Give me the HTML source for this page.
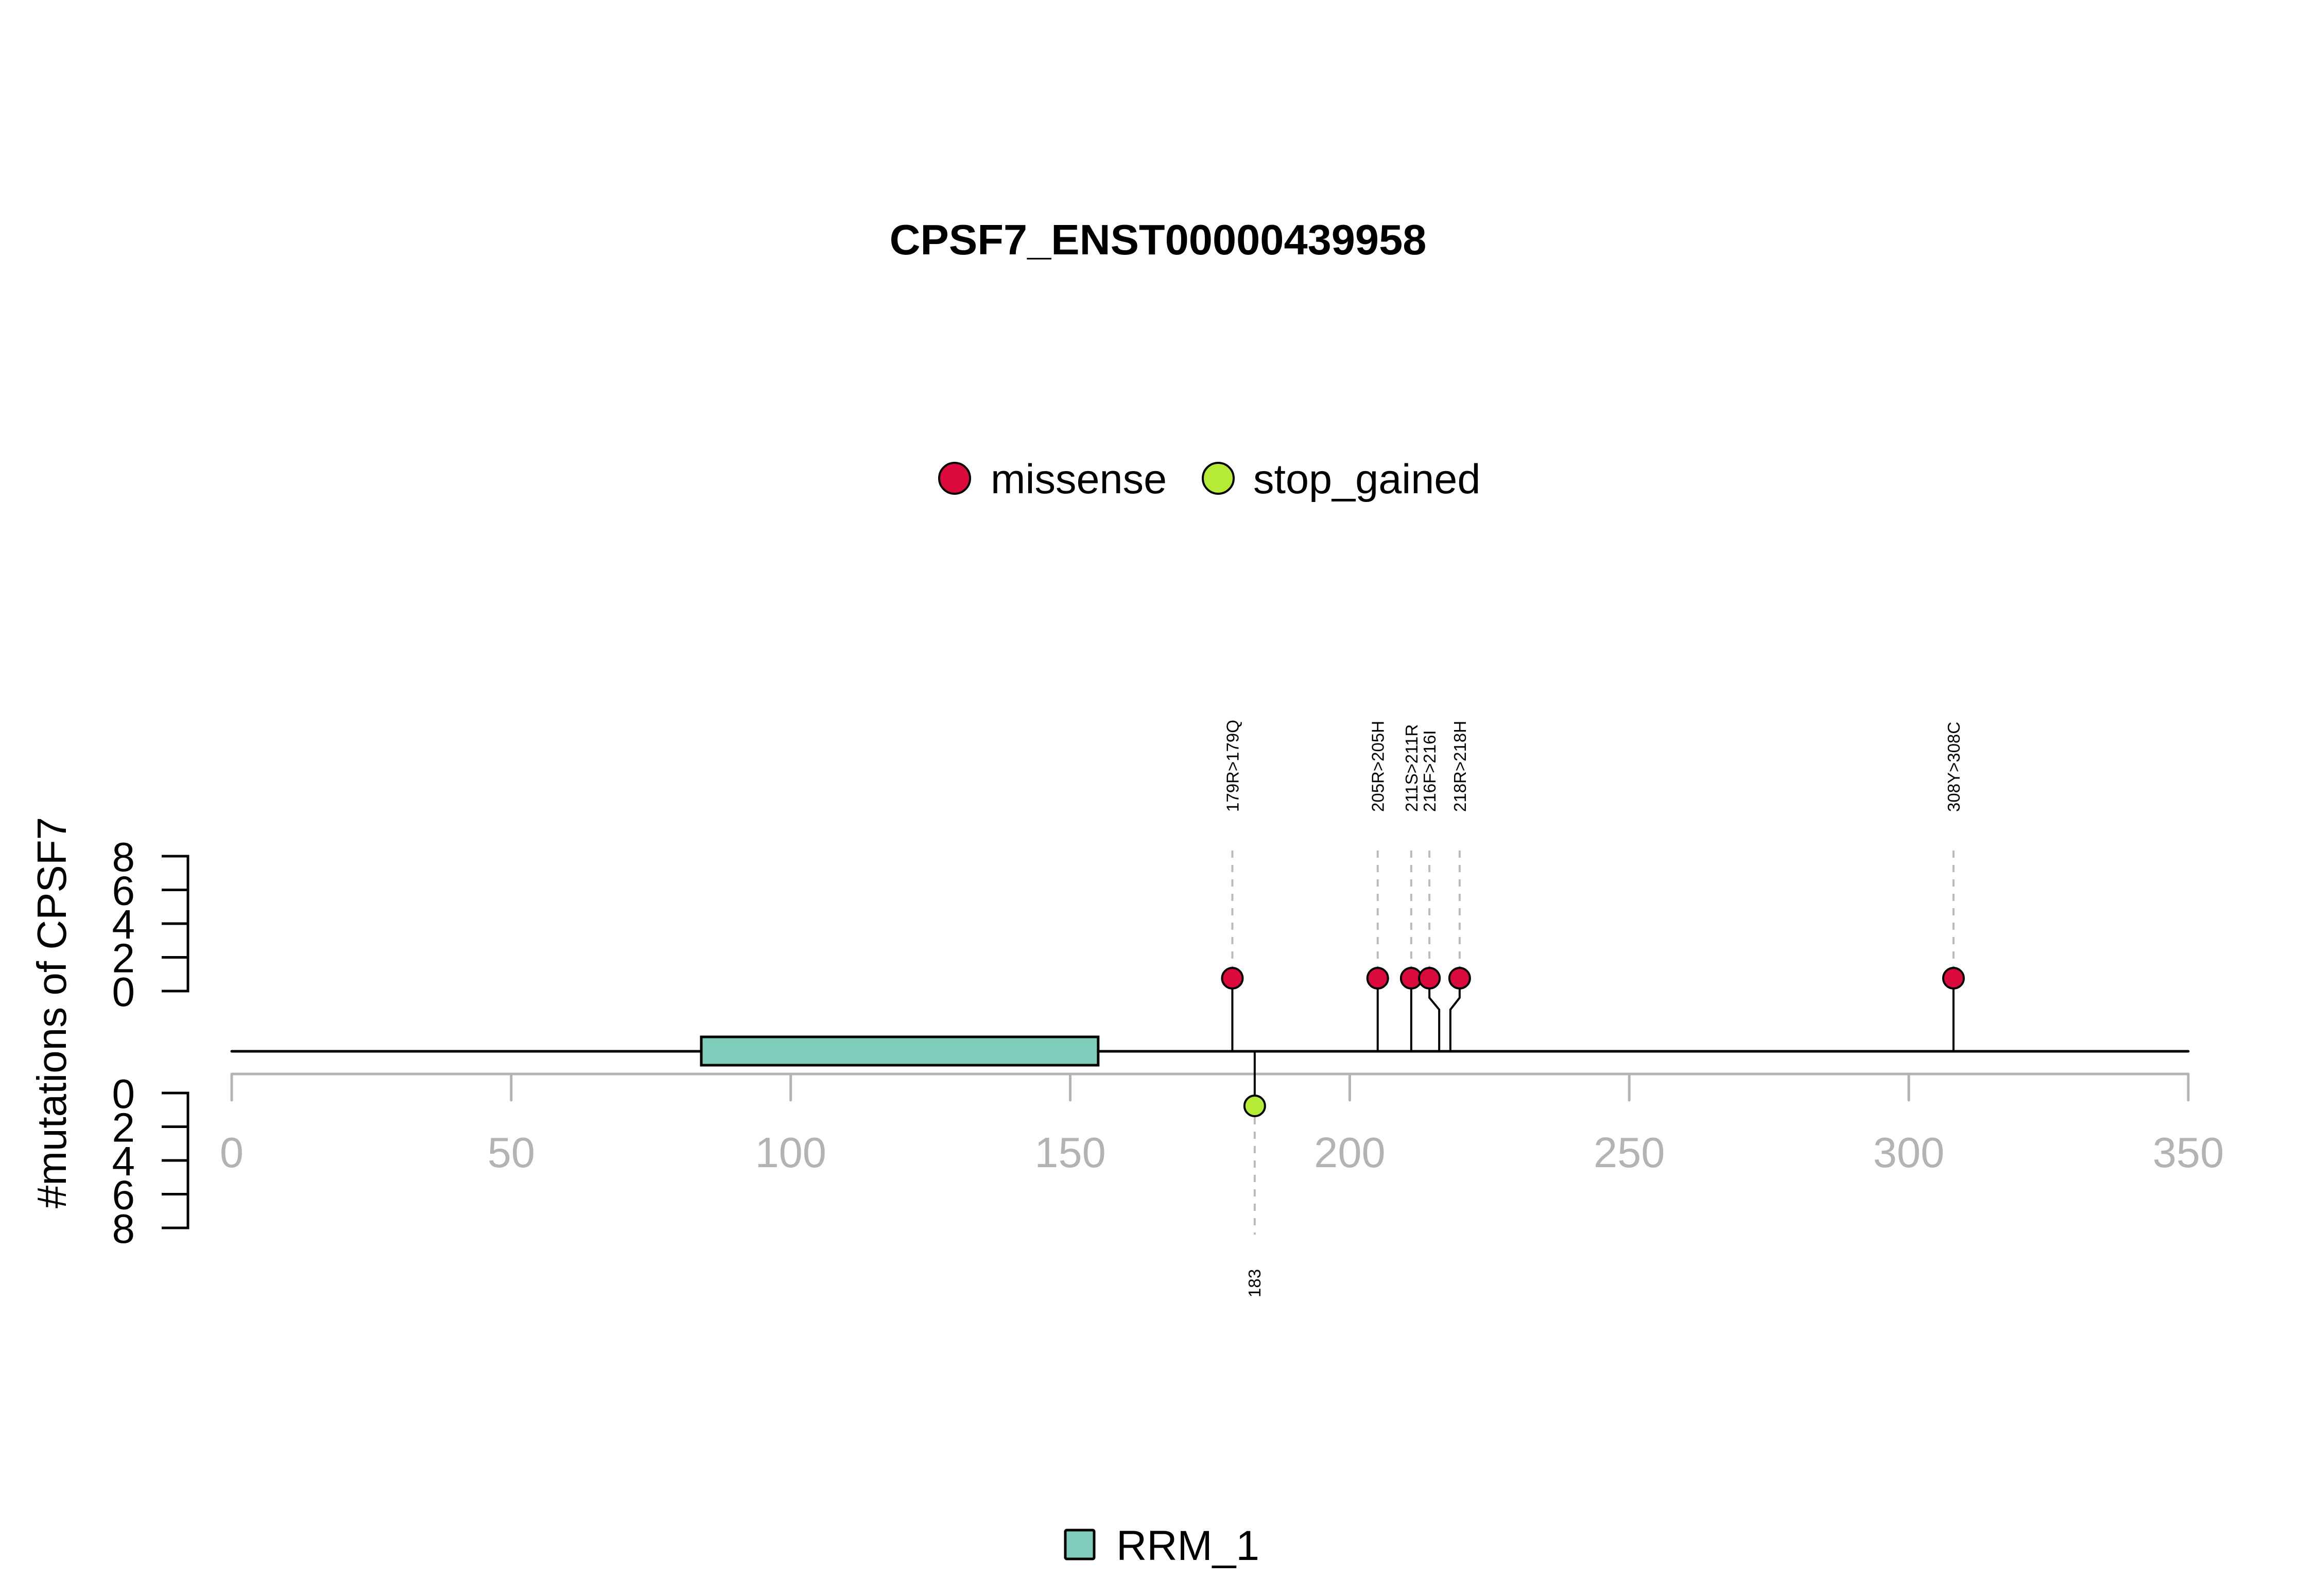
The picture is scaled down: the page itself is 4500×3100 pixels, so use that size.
<!DOCTYPE html>
<html><head><meta charset="utf-8"><style>
html,body{margin:0;padding:0;background:#fff;}
svg{display:block;font-family:"Liberation Sans",Arial,sans-serif;}
</style></head><body>
<svg id="chart" width="4500" height="3100" viewBox="0 0 4500 3100" xmlns="http://www.w3.org/2000/svg">
<rect width="4500" height="3100" fill="#fff"/>
<text x="2249" y="494" text-anchor="middle" font-size="83" font-weight="bold">CPSF7_ENST00000439958</text>
<g>
<circle cx="1854" cy="929" r="30" fill="#DC0A3C" stroke="#000" stroke-width="4"/>
<text x="1924" y="958" font-size="81">missense</text>
<circle cx="2366" cy="929" r="30" fill="#B5EB35" stroke="#000" stroke-width="4"/>
<text x="2434" y="958" font-size="81">stop_gained</text>
</g>
<text transform="translate(128,1967) rotate(-90)" text-anchor="middle" font-size="80">#mutations of CPSF7</text>
<g id="plot"></g>
<g>
<rect x="2069" y="2972" width="56" height="56" fill="#80CDBB" stroke="#000" stroke-width="5" rx="3"/>
<text x="2168" y="3030" font-size="82">RRM_1</text>
</g>
</svg>
<script>
const proteinLength = 350;
const xTicks = [0, 50, 100, 150, 200, 250, 300, 350];
const yTicks = [0, 2, 4, 6, 8];
const domainNames = ["RRM_1"];
const domainStart = [84];
const domainEnd = [155];
const missensePos = [179, 205, 211, 216, 218, 308];
const missenseCount = [1, 1, 1, 1, 1, 1];
const missenseLabels = ["179R>179Q", "205R>205H", "211S>211R", "216F>216I", "218R>218H", "308Y>308C"];
const missenseShift = [0, 0, 0, -19, 18, 0];
const stopPos = [183];
const stopCount = [1];
const stopLabels = ["183"];

const NS = "http://www.w3.org/2000/svg";
const plot = document.getElementById("plot");
const X0 = 450, X1 = 4250;
const xS = v => X0 + v * (X1 - X0) / proteinLength;
const BACK = 2042, AX = 2086;
const UP0 = 1925, DN0 = 2123, UNIT = 32.75, PIN = 25;
const yUp = v => UP0 - v * UNIT;
const yDn = v => DN0 + v * UNIT;
function mk(tag, attrs) { const e = document.createElementNS(NS, tag); for (const k in attrs) e.setAttribute(k, attrs[k]); plot.appendChild(e); return e; }

// y axes
let e;
e = mk("path", {d:`M314 ${yUp(8)}H365V${yUp(0)}H314`, fill:"none", stroke:"#000", "stroke-width":5});


e = mk("path", {d:`M314 ${yDn(0)}H365V${yDn(8)}H314`, fill:"none", stroke:"#000", "stroke-width":5});


yTicks.forEach(t => {
  e = mk("line", {x1:314, x2:365, y1:yUp(t), y2:yUp(t), stroke:"#000", "stroke-width":5});
  
  
  e = mk("text", {x:262, y:yUp(t)+29, "text-anchor":"end", "font-size":80});
  e.textContent = t;
  
  
  e = mk("line", {x1:314, x2:365, y1:yDn(t), y2:yDn(t), stroke:"#000", "stroke-width":5});
  
  
  e = mk("text", {x:262, y:yDn(t)+29, "text-anchor":"end", "font-size":80});
  e.textContent = t;
  
  
});

// x axis
e = mk("line", {x1:xS(0), x2:xS(proteinLength), y1:AX, y2:AX, stroke:"#b3b3b3", "stroke-width":5});


xTicks.forEach(t => {
  e = mk("line", {x1:xS(t), x2:xS(t), y1:AX, y2:2137, stroke:"#b3b3b3", "stroke-width":5, "stroke-linecap":"round"});
  
  
  e = mk("text", {x:xS(t), y:2267, "text-anchor":"middle", "font-size":83, fill:"#b3b3b3"});
  e.textContent = t;
  
  
});

// stop gained (below)
stopPos.forEach((p, i) => {
  const cy = DN0 + stopCount[i] * PIN;
  e = mk("line", {x1:xS(p), x2:xS(p), y1:cy+22, y2:2398, stroke:"#bbb", "stroke-width":4, "stroke-dasharray":"14 14"});
  
  
  e = mk("line", {x1:xS(p), x2:xS(p), y1:BACK, y2:cy, stroke:"#000", "stroke-width":4});
  
  
  e = mk("circle", {cx:xS(p), cy:cy, r:20, fill:"#B5EB35", stroke:"#000", "stroke-width":4});
  
  
  e = mk("text", {transform:`translate(${xS(p)+11},2520) rotate(-90)`, "font-size":33});
  e.textContent = stopLabels[i];
  
  
});

// backbone
e = mk("line", {x1:xS(0), x2:xS(proteinLength), y1:BACK, y2:BACK, stroke:"#000", "stroke-width":5, "stroke-linecap":"round"});


domainStart.forEach((s, i) => {
  e = mk("rect", {x:xS(s), y:2014, width:xS(domainEnd[i])-xS(s), height:55, fill:"#80CDBB", stroke:"#000", "stroke-width":5});
  
  
});

// missense (above)
missensePos.forEach((p, i) => {
  const bx = xS(p), cx = bx + missenseShift[i];
  const cy = UP0 - missenseCount[i] * PIN;
  e = mk("line", {x1:cx, x2:cx, y1:1652, y2:cy-22, stroke:"#bbb", "stroke-width":4, "stroke-dasharray":"14 14"});
  
  
  const d = missenseShift[i] ? `M${bx} ${BACK}V1961L${cx} 1938V${cy}` : `M${bx} ${BACK}V${cy}`;
  e = mk("path", {d:d, fill:"none", stroke:"#000", "stroke-width":4});
  
  
  e = mk("circle", {cx:cx, cy:cy, r:20, fill:"#DC0A3C", stroke:"#000", "stroke-width":4});
  
  
  e = mk("text", {transform:`translate(${cx+12},1577) rotate(-90)`, "font-size":33});
  e.textContent = missenseLabels[i];
  
  
});
</script>
</body></html>
